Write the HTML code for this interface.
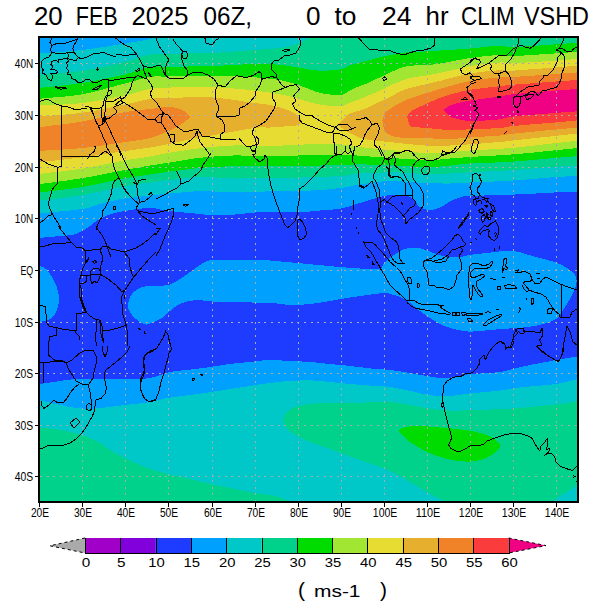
<!DOCTYPE html>
<html><head><meta charset="utf-8"><title>CLIM VSHD</title>
<style>
html,body{margin:0;padding:0;background:#fff}
svg{display:block}
text{font-family:'Liberation Sans', sans-serif;fill:#000}
.t{opacity:.999}
</style></head><body>
<svg width="600" height="610" viewBox="0 0 600 610">
<rect width="600" height="610" fill="#fff"/>
<g shape-rendering="crispEdges">
<rect x="39" y="37" width="539" height="465" fill="#00a0ff"/>
<path d="M39,238 42.6,237.7 46.2,237.3 49.8,237 53.4,236.7 56.8,236.3 60,236 63,235.7 65.8,235.6 68.4,235.4 71,235.1 73.5,234.7 76,234 78.5,233 81,231.7 83.5,230.2 85.9,228.7 88,227.3 90,226 91.6,224.9 93,223.8 94.1,222.8 95.3,221.9 96.5,220.9 98,220 99.7,219 101.6,218.1 103.6,217.1 105.6,216.2 107.8,215.3 110,214.5 112.2,213.8 114.4,213.2 116.7,212.6 119.1,212.1 121.9,211.5 125,211 128.7,210.4 132.9,209.7 137.3,209.1 141.8,208.5 146.1,208.1 150,208 153.4,208.2 156.4,208.6 159.2,209.2 162,209.9 164.8,210.5 168,211 171.4,211.4 175.1,211.7 178.8,212.1 182.6,212.4 186.3,212.7 190,213 193.6,213.4 197.2,213.8 200.8,214.1 204.4,214.5 207.9,214.8 211.5,215 215.1,215.1 218.7,215.1 222.2,215.1 225.8,215 229.4,214.9 233,214.7 236.6,214.4 240.2,214.1 243.9,213.6 247.5,213.2 251.1,212.8 254.6,212.5 258,212.2 261.4,212 264.7,211.8 268.1,211.7 271.5,211.5 275,211.5 278.7,211.6 282.4,211.7 286.2,211.9 290.1,212.2 293.9,212.3 297.7,212.3 301.5,212.2 305.2,211.9 309,211.6 312.7,211.2 316.4,210.8 320,210.5 323.6,210.2 327.1,210 330.6,209.7 334,209.4 337.4,209 340.8,208.5 344,207.8 347.1,207 350.2,206.1 353.3,205.1 356.5,204 360,203 363.9,201.8 368.1,200.5 372.5,199.2 376.8,197.9 380.7,196.8 384,196 386.5,195.5 388.5,195.3 390.1,195.2 391.5,195.3 393.1,195.4 395,195.5 397.3,195.5 399.9,195.5 402.6,195.6 405.2,195.8 407.7,196.2 410,197 412,198.3 413.7,200 415.3,201.9 416.9,203.9 418.4,205.6 420,207 421.7,208 423.3,208.7 425,209.3 426.7,209.7 428.3,209.9 430,210 431.7,209.9 433.3,209.7 435,209.3 436.7,208.8 438.3,208.2 440,207.5 441.7,206.7 443.3,205.7 445,204.6 446.7,203.5 448.3,202.4 450,201.5 451.7,200.7 453.3,199.9 455,199.2 456.7,198.6 458.3,198 460,197.5 461.3,197.1 462.1,196.8 462.9,196.6 464.2,196.4 466.4,196.2 470,196 475.3,195.8 481.9,195.6 489.4,195.3 497.4,195.1 505.5,194.9 513,194.6 520.4,194.3 528.1,193.9 535.8,193.5 543.2,193.1 550,192.7 556,192.4 560.9,192.2 564.9,192 568.3,191.9 571.4,191.8 574.6,191.6 578,191.5 578,356.4 576.4,356.7 574.7,356.9 573.1,357.2 571.5,357.4 569.8,357.7 568,358 566.1,358.3 564.1,358.6 562,359 559.9,359.3 557.9,359.7 556,360 554.3,360.3 552.7,360.6 551.2,360.9 549.7,361.3 548,361.6 546,362 543.7,362.4 541.1,362.9 538.4,363.4 535.6,363.9 532.8,364.4 530,365 527.2,365.6 524.3,366.3 521.3,367 518.4,367.7 515.6,368.4 513,369 510.7,369.6 508.6,370.1 506.7,370.7 504.7,371.1 502.5,371.6 500,372 497,372.3 493.5,372.6 489.8,372.9 486.2,373.1 482.8,373.3 480,373.5 477.8,373.6 475.9,373.7 474.4,373.7 473,373.8 471.6,373.8 470,374 468.3,374.3 466.7,374.6 465,374.9 463.3,375.3 461.7,375.7 460,376 458.3,376.3 456.7,376.6 455,376.9 453.3,377.2 451.7,377.4 450,377.6 448.4,377.8 446.8,377.9 445.2,378 443.6,378.1 441.8,378.1 440,378 438.1,377.8 436,377.5 433.9,377.2 431.7,376.8 429.4,376.4 427,376 424.4,375.6 421.7,375.1 418.9,374.6 416,374 413.1,373.5 410,373 406.8,372.5 403.6,371.9 400.2,371.4 396.8,370.9 393.4,370.4 390,370 386.7,369.7 383.3,369.4 380,369.2 376.7,368.9 373.3,368.7 370,368.4 366.7,368 363.3,367.6 360,367.2 356.7,366.8 353.3,366.4 350,366 346.7,365.6 343.3,365.3 340,365 336.7,364.7 333.3,364.3 330,364 326.7,363.7 323.3,363.3 320,362.9 316.7,362.6 313.3,362.3 310,362 306.7,361.8 303.3,361.6 300,361.4 296.7,361.3 293.3,361.2 290,361 286.7,360.8 283.3,360.6 280,360.3 276.7,360.1 273.3,360 270,360 266.7,360.2 263.3,360.4 260,360.8 256.7,361.2 253.3,361.6 250,362 246.7,362.3 243.3,362.6 240,362.9 236.7,363.3 233.3,363.6 230,364 226.7,364.4 223.3,364.9 220,365.5 216.7,366 213.3,366.5 210,367 206.7,367.5 203.3,367.9 200,368.3 196.7,368.8 193.3,369.2 190,369.6 186.7,370 183.3,370.3 180,370.6 176.7,370.9 173.3,371.4 170,372 166.7,372.8 163.5,373.9 160.3,375.1 157,376.2 153.6,377.2 150,378 146.2,378.5 142.4,378.7 138.4,378.9 134.3,378.9 129.8,378.9 125,379 119.6,379.1 113.5,379.1 107.2,379 100.9,379 95.1,379 90,379 85.8,379 82.1,379.1 78.8,379.2 75.8,379.2 72.9,379.4 70,379.6 67.1,379.9 64.3,380.3 61.7,380.7 59.1,381.2 56.6,381.6 54,382 51.4,382.4 48.9,382.7 46.4,383 44,383.3 41.5,383.7 39,384Z" fill="#1e3cff"/>
<path d="M39,265.5 40.2,266 41.4,266.5 42.6,267 43.7,267.5 44.9,268.2 46,269 47.1,270 48.1,271.2 49.1,272.5 50.1,273.9 51.1,275.4 52,277 52.9,278.6 53.9,280.4 54.8,282.2 55.6,284.1 56.4,286.1 57,288 57.6,289.9 58.1,291.9 58.5,293.9 58.8,296 59,298 59,300 58.8,302.1 58.5,304.2 58,306.3 57.4,308.4 56.7,310.3 56,312 55.2,313.5 54.4,314.8 53.5,316 52.5,317.1 51.3,318.1 50,319 48.5,319.8 46.7,320.4 44.8,320.9 42.9,321.4 40.9,321.9 39,322.4Z" fill="#00a0ff"/>
<path d="M128,304 128.3,302.4 128.7,300.7 129.4,298.9 130.1,297.1 131,295.5 132,294 133.1,292.7 134.3,291.6 135.6,290.5 137,289.6 138.5,288.7 140,288 141.5,287.4 142.9,287 144.4,286.7 146,286.4 147.8,286.2 150,286 152.6,285.8 155.6,285.8 158.9,285.8 162.1,285.7 165.3,285.4 168,285 170.3,284.3 172.4,283.5 174.3,282.5 176.1,281.4 178,280.2 180,279 182.1,277.7 184.3,276.2 186.5,274.6 188.7,273 190.9,271.5 193,270 195.1,268.5 197.1,267 199.1,265.6 201.1,264.2 203.1,263 205,262 206.6,261.3 207.7,260.8 208.8,260.5 210.3,260.3 212.6,260.2 216,260 221.1,259.8 227.7,259.7 235,259.6 242.4,259.5 249.2,259.5 254.6,259.5 258.4,259.6 261,259.7 263,259.8 264.8,260 267,260.2 270,260.5 273.7,260.8 277.8,261.2 282.2,261.6 286.9,262 292.1,262.5 297.7,263 304.2,263.6 311.5,264.3 319.3,265.1 327,265.8 334.1,266.5 340,267 344.6,267.4 348.4,267.7 351.5,268 354.2,268.2 357,268.3 360,268.5 363.4,268.7 366.9,269 370.4,269.3 373.7,269.4 376.6,269.4 379,269 380.7,268.3 381.9,267.2 382.6,266 383.3,264.6 384,263.3 385,262 386.3,260.8 387.8,259.6 389.3,258.4 390.9,257.2 392.5,256.1 394,255 395.5,254 396.9,253 398.3,252 399.8,251.1 401.3,250.3 403,249.6 404.8,249 406.8,248.5 408.8,248 410.9,247.7 413,247.5 415,247.5 417,247.7 419,248.1 421,248.6 423,249.2 425,249.9 427,250.5 429,251.2 431,252 433,252.8 435,253.6 437,254.4 439,255 441,255.6 443,256.1 445,256.5 447,256.9 449,257.2 451,257.4 453.1,257.4 455.2,257.4 457.3,257.2 459.4,257 461.3,256.7 463,256.5 464.3,256.3 465.2,256.1 466,255.8 466.9,255.6 468.1,255.3 470,255 472.5,254.6 475.6,254.2 479,253.8 482.6,253.4 486.3,253 490,252.6 493.7,252.2 497.4,251.7 501.3,251.3 505.2,250.9 509.1,250.8 513,251 517,251.6 521.2,252.6 525.3,253.8 529.3,255.1 533.1,256.2 536.4,257.2 539.2,257.9 541.6,258.5 543.7,259 545.6,259.4 547.5,259.9 549.5,260.5 551.5,261.1 553.6,261.8 555.6,262.5 557.5,263.1 559.3,263.9 561,264.6 562.6,265.4 564,266.2 565.3,267 566.6,267.8 567.8,268.6 569,269.5 570.2,270.4 571.3,271.3 572.4,272.2 573.4,273.1 574.3,274 575,275 575.5,275.9 575.9,276.9 576.2,277.8 576.4,278.8 576.5,279.9 576.5,281 576.5,282.2 576.4,283.4 576.2,284.7 575.9,286 575.5,287.4 575,289 574.3,290.7 573.3,292.7 572.3,294.7 571.2,296.7 570.1,298.7 569,300.6 568,302.4 566.9,304.1 565.8,305.8 564.7,307.4 563.7,309 562.6,310.5 561.6,312 560.7,313.5 559.8,314.9 558.9,316.3 557.8,317.5 556.4,318.7 554.8,319.7 553.1,320.6 551.1,321.5 549.1,322.2 546.9,322.9 544.6,323.6 542.1,324.3 539.5,324.9 536.7,325.5 533.8,326.1 530.9,326.6 528,327 525.1,327.3 522.2,327.6 519.2,327.8 516.2,328 513.1,328.2 510,328.4 506.7,328.7 503.1,328.9 499.5,329.2 496,329.5 492.8,329.8 490,330 487.8,330.2 485.9,330.4 484.4,330.6 483,330.7 481.6,330.9 480,331 478.3,331.1 476.7,331.3 475,331.4 473.3,331.5 471.7,331.6 470,331.6 468.3,331.5 466.7,331.4 465,331.2 463.3,331 461.7,330.7 460,330.4 458.3,330.1 456.7,329.7 455,329.4 453.3,329 451.7,328.5 450,328 448.3,327.4 446.7,326.9 445,326.2 443.3,325.5 441.7,324.8 440,324 438.3,323.1 436.7,322.2 435,321.2 433.3,320.1 431.7,319.1 430,318 428.3,316.9 426.7,315.8 425,314.6 423.3,313.4 421.7,312.2 420,311 418.3,309.7 416.7,308.3 415,306.9 413.3,305.6 411.7,304.2 410,303 408.3,301.8 406.7,300.7 405,299.7 403.3,298.7 401.7,297.8 400,297 398.3,296.3 396.5,295.7 394.8,295.2 393,294.7 391.4,294.3 390,294 389,293.7 388.4,293.4 387.9,293.1 387.2,293 386,292.9 384,293 381,293.3 377.1,293.7 372.8,294.2 368.3,294.9 363.9,295.5 360,296 356.5,296.5 353,297 349.7,297.6 346.6,298.1 343.6,298.6 341,299 338.8,299.4 337.1,299.7 335.6,300 334,300.3 332.3,300.6 330,301 327.2,301.5 324,302 320.6,302.6 317,303.1 313.4,303.6 310,304 306.7,304.3 303.3,304.6 300,304.8 296.7,305 293.3,305 290,305 287.1,304.8 284.7,304.5 282.2,304.2 279.3,303.7 275.4,303.3 270,303 262.3,302.7 252.4,302.5 241.6,302.3 230.9,302.1 221.3,301.8 214,301.6 209.2,301.3 206.1,301 204.1,300.7 202.8,300.3 201.6,300.1 200,300 198.1,300 196.4,300.1 194.8,300.2 193.2,300.4 191.6,300.7 190,301 188.3,301.3 186.7,301.7 185,302.1 183.3,302.6 181.7,303.2 180,304 178.3,304.9 176.6,306 174.9,307.2 173.2,308.5 171.6,309.8 170,311 168.6,312.2 167.3,313.4 166.1,314.6 164.9,315.8 163.5,316.9 162,318 160.2,319.1 158.1,320.2 155.9,321.2 153.7,322.2 151.7,323 150,323.6 148.7,324 147.6,324.3 146.8,324.5 145.9,324.5 145,324.3 144,324 142.8,323.5 141.4,322.8 140,322 138.6,321 137.2,320 136,319 134.8,318 133.7,316.9 132.6,315.7 131.6,314.5 130.7,313.2 130,312 129.4,310.7 128.8,309.5 128.4,308.2 128.1,306.9 127.9,305.5Z" fill="#00a0ff"/>
<path d="M39,53.6 46.2,53 53.3,52.5 60.5,52 67.7,51.4 74.8,50.8 82,50 89.4,49.1 97,48 104.6,46.9 112,45.7 118.9,44.6 125,43.6 130.4,42.7 135.4,41.8 139.8,41 143.7,40.3 147.1,39.6 150,39 152.1,38.5 153.4,38.1 154.2,37.8 154.7,37.6 155.2,37.3 156,37 578,37 578,176 574.6,176.1 571.4,176.2 568.3,176.3 564.9,176.5 560.9,176.7 556,177 550,177.5 543.2,178 535.8,178.7 528.1,179.4 520.4,180 513,180.5 505.6,180.9 497.8,181.3 490.1,181.7 482.6,182 475.8,182.2 470,182.5 465.4,182.7 461.7,183 458.8,183.2 456,183.3 453.2,183.4 450,183.5 446.4,183.5 442.9,183.5 439.2,183.4 435.4,183.3 431.4,183.2 427,183 421.9,182.7 416.2,182.4 410.2,181.9 404.4,181.6 399.2,181.2 395,181 392.1,180.9 390.3,180.8 389,180.8 387.9,180.9 386.3,181.1 384,181.3 380.7,181.7 376.8,182.1 372.5,182.7 368.1,183.3 363.9,183.9 360,184.5 356.5,185.1 353.3,185.7 350.2,186.3 347.1,186.9 344,187.5 340.8,188 337.4,188.4 334,188.8 330.6,189.2 327.1,189.5 323.6,189.7 320,190 316.4,190.2 312.7,190.4 309,190.6 305.2,190.7 301.5,190.8 297.7,190.9 293.9,191 290.1,191 286.2,190.9 282.4,190.9 278.7,190.9 275,191 271.5,191.1 268.1,191.3 264.7,191.5 261.4,191.7 258,191.9 254.6,192 251.2,192.1 247.9,192.2 244.6,192.3 241.1,192.3 237.3,192.3 233,192.3 228.1,192.2 222.8,191.9 217.2,191.6 211.3,191.3 205.6,191.2 200,191.2 194.4,191.4 188.7,191.8 183.1,192.3 177.6,192.9 172.5,193.4 168,193.8 164.3,194.1 161.2,194.4 158.6,194.6 156,194.9 153.2,195.2 150,195.5 146.1,195.9 141.8,196.4 137.3,196.9 132.9,197.5 128.7,198 125,198.5 121.9,199 119.1,199.5 116.7,200 114.4,200.5 112.2,201 110,201.5 107.9,202 105.9,202.4 104.1,202.9 102.2,203.4 100.2,203.9 98,204.5 95.9,205.2 94,205.9 91.9,206.7 89.5,207.4 86.3,208.2 82,209 76.4,209.8 69.7,210.5 62.2,211.2 54.3,212 46.5,212.8 39,213.5Z" fill="#00c8c8"/>
<path d="M39,75 46.2,74.4 53.3,73.8 60.5,73.2 67.7,72.6 74.8,71.8 82,70.8 89.4,69.6 97,68.1 104.6,66.5 112,64.9 118.9,63.3 125,61.8 130.3,60.4 134.9,59 139,57.6 142.8,56.4 146.4,55.3 150,54.5 153.2,54 155.7,53.7 158.1,53.7 160.7,53.7 164,53.8 168.4,53.7 174.2,53.6 180.9,53.5 188.4,53.5 196.2,53.4 204,53.2 211.5,53 218.9,52.6 226.5,52.1 234.2,51.6 241.5,51 248.4,50.5 254.6,50 259.9,49.6 264.7,49.3 268.9,49.1 272.8,48.8 276.4,48.4 280,48 283.5,47.5 286.7,46.9 289.7,46.3 292.5,45.6 295.2,44.9 297.7,44 300.1,43 302.2,41.9 304.2,40.7 306.1,39.4 308,38.2 310,37 578,37 578,165.3 574.6,165.5 571.4,165.7 568.3,165.8 564.9,166 560.9,166.3 556,166.6 550,167.1 543.2,167.6 535.8,168.2 528.1,168.9 520.4,169.5 513,170 505.6,170.5 497.8,170.9 490.1,171.3 482.6,171.7 475.8,172 470,172.3 465.4,172.6 461.7,172.8 458.8,173 456,173.2 453.2,173.4 450,173.5 446.4,173.6 442.9,173.8 439.2,173.9 435.4,174 431.4,174.1 427,174 421.9,173.8 416.2,173.5 410.2,173.2 404.4,172.8 399.2,172.5 395,172.3 392.1,172.2 390.3,172.2 389,172.3 387.9,172.3 386.3,172.4 384,172.5 380.7,172.6 376.8,172.6 372.5,172.7 368.1,172.8 363.9,173 360,173.2 356.8,173.6 354.1,174 351.6,174.5 348.8,175.1 345.3,175.6 340.8,176 334.8,176.3 327.4,176.7 319.5,176.9 311.4,177.2 304,177.4 297.7,177.6 292.7,177.8 288.5,178 284.9,178.1 281.6,178.3 278.4,178.3 275,178.4 271.5,178.4 268.1,178.3 264.7,178.2 261.4,178.1 258,178 254.6,178 251.2,178.1 247.9,178.2 244.6,178.3 241.1,178.4 237.3,178.5 233,178.5 228.1,178.3 222.8,178 217.2,177.6 211.3,177.2 205.6,177 200,177 194.4,177.3 188.7,177.8 183.1,178.4 177.6,179.1 172.5,179.8 168,180.3 164.3,180.7 161.2,181.1 158.6,181.4 156,181.8 153.2,182.2 150,182.6 146.4,183 142.9,183.4 139.1,183.9 134.9,184.4 130.3,185.1 125,186 118.9,187.2 112,188.7 104.6,190.4 97,192 89.4,193.6 82,195 74.8,196.1 67.7,197.1 60.5,198.1 53.3,198.9 46.2,199.8 39,200.7Z" fill="#00d28c"/>
<path d="M39,88 46.2,87.2 53.3,86.5 60.5,85.7 67.7,84.9 74.8,84 82,83 89.4,81.8 97,80.4 104.6,78.8 112,77.3 118.9,75.8 125,74.4 130.3,73 134.9,71.6 139,70.2 142.8,68.9 146.4,67.8 150,67 153.2,66.6 155.7,66.4 158.1,66.5 160.7,66.6 164,66.8 168.4,66.8 174.2,66.7 180.9,66.6 188.4,66.5 196.2,66.4 204,66.2 211.5,66 218.9,65.7 226.5,65.3 234.2,64.9 241.5,64.5 248.4,64.2 254.6,64 259.9,63.9 264.7,64 268.9,64.1 272.8,64.3 276.4,64.5 280,64.8 283.3,65.1 286.3,65.5 289,66 291.7,66.5 294.6,67 297.7,67.5 301.2,68.1 304.8,68.7 308.7,69.4 312.5,70 316.3,70.4 320,70.7 323.7,70.7 327.5,70.6 331.2,70.4 334.8,70.1 338,69.6 340.8,69.2 343,68.7 344.7,68 346.1,67.3 347.3,66.6 348.6,65.9 350,65.3 351.7,64.8 353.4,64.3 355.1,63.8 356.9,63.4 358.5,63 360,62.6 361.2,62.3 362.2,62 363.1,61.8 364,61.5 365.3,61.2 367,60.7 369.3,60.1 372,59.4 374.9,58.6 378,57.7 381.1,57 384,56.3 386.8,55.7 389.6,55.2 392.4,54.7 395.1,54.2 397.7,53.8 400,53.4 401.9,53.1 403.5,52.8 404.9,52.6 406.4,52.4 408,52.2 410,52 412.5,51.9 415.2,51.8 418.2,51.7 421.2,51.6 424.2,51.5 427,51.4 429.5,51.3 431.7,51.1 433.8,51 436.1,50.8 438.8,50.6 442,50.4 445.9,50.1 450.3,49.9 455.1,49.6 460,49.2 465.1,48.9 470,48.5 475.1,48 480.5,47.4 485.9,46.8 491.2,46.3 496,45.8 500,45.6 502.8,45.6 504.5,45.9 505.7,46.3 507.1,46.7 509.3,47 513,47 518.7,46.8 525.9,46.4 533.9,45.8 542.1,45.3 549.7,44.7 556,44.3 560.9,44 564.9,43.7 568.3,43.4 571.4,43.2 574.6,43 578,42.7 578,156.1 574.6,156.4 571.4,156.6 568.3,156.8 564.9,157.1 560.9,157.4 556,157.8 550,158.3 543.2,159 535.8,159.7 528.1,160.4 520.4,161.1 513,161.6 505.6,162 497.8,162.4 490.1,162.7 482.6,162.9 475.8,163.2 470,163.5 465.4,163.8 461.7,164.2 458.8,164.5 456,164.9 453.2,165.2 450,165.5 446.6,165.8 443.3,166.2 439.9,166.5 436.3,166.8 432,167 427,167 420.8,166.9 413.4,166.5 405.6,166.1 397.7,165.7 390.3,165.3 384,165 378.8,164.8 374.4,164.6 370.5,164.5 366.9,164.5 363.5,164.4 360,164.4 356.8,164.4 354.1,164.5 351.6,164.7 348.8,164.8 345.3,165 340.8,165.1 334.8,165.2 327.4,165.3 319.5,165.5 311.4,165.6 304,165.7 297.7,165.8 292.7,165.9 288.5,165.9 284.9,166 281.6,166 278.4,166.1 275,166.1 271.5,166.1 268.1,166.1 264.7,166.1 261.4,166 258,166 254.6,166 251.2,166 247.9,166 244.6,166 241.1,166 237.3,166.1 233,166.2 228.1,166.4 222.8,166.6 217.2,166.9 211.3,167.2 205.6,167.6 200,168 194.4,168.5 188.7,169.2 183.1,169.8 177.6,170.5 172.5,171.2 168,171.8 164.3,172.3 161.2,172.7 158.6,173.2 156,173.6 153.2,174 150,174.5 146.4,175 142.9,175.5 139.1,176 134.9,176.6 130.3,177.4 125,178.3 118.9,179.5 112,181 104.6,182.5 97,184.1 89.4,185.7 82,187 74.8,188.1 67.7,189.1 60.5,190 53.3,190.8 46.2,191.7 39,192.6Z" fill="#00dc00"/>
<path d="M39,98.8 46.2,98.1 53.3,97.5 60.5,96.9 67.7,96.3 74.8,95.4 82,94.3 89.4,92.8 97,91 104.6,89 112,87 118.9,85.1 125,83.5 130.3,82.1 134.9,80.8 139,79.6 142.8,78.6 146.4,77.7 150,77 153.2,76.6 155.7,76.4 158.1,76.4 160.7,76.5 164,76.5 168.4,76.5 174.2,76.3 180.9,76.1 188.4,75.9 196.2,75.6 204,75.5 211.5,75.5 218.9,75.6 226.5,75.9 234.2,76.2 241.5,76.5 248.4,76.9 254.6,77.3 259.9,77.7 264.7,78.1 268.9,78.6 272.8,79.1 276.4,79.6 280,80.2 283.3,80.8 286.3,81.5 289,82.2 291.7,83 294.6,83.8 297.7,84.8 301.2,86 304.8,87.4 308.7,88.9 312.5,90.4 316.3,91.8 320,92.8 323.7,93.6 327.5,94.2 331.2,94.7 334.8,95 338,95.1 340.8,95 343,94.6 344.7,93.9 346.1,93.1 347.3,92.1 348.6,91.1 350,90.3 351.7,89.5 353.4,88.8 355.1,88 356.9,87.3 358.5,86.6 360,86 361.2,85.5 362.2,85.2 363.1,84.9 364,84.5 365.3,84 367,83.3 369.4,82.2 372.3,80.9 375.6,79.4 378.8,77.9 381.7,76.6 384,75.5 385.6,74.7 386.7,74.2 387.4,73.8 388.1,73.4 388.9,73 390,72.5 391.4,71.8 393,71.1 394.8,70.4 396.5,69.6 398.3,68.9 400,68.3 401.6,67.8 403.1,67.3 404.6,66.8 406.1,66.4 407.9,66.1 410,65.8 412.5,65.6 415.2,65.4 418.2,65.4 421.2,65.3 424.2,65.2 427,65 429.5,64.8 431.7,64.6 433.8,64.4 436.1,64.1 438.8,63.7 442,63.2 445.9,62.5 450.3,61.7 455.1,60.7 460,59.8 465.1,58.9 470,58.1 475.1,57.4 480.5,56.7 485.9,56.1 491.2,55.6 496,55.2 500,54.9 502.8,54.9 504.5,55.1 505.7,55.4 507.1,55.7 509.3,56 513,56 518.7,55.8 525.9,55.4 533.9,54.9 542.1,54.3 549.7,53.8 556,53.4 560.9,53.1 564.9,52.8 568.3,52.5 571.4,52.2 574.6,52 578,51.7 578,148 574.6,148.3 571.4,148.7 568.3,149 564.9,149.3 560.9,149.7 556,150.2 550,150.8 543.2,151.5 535.8,152.3 528.1,153 520.4,153.8 513,154.4 505.6,154.9 497.8,155.4 490.1,155.9 482.6,156.3 475.8,156.6 470,157 465.4,157.3 461.7,157.6 458.8,157.8 456,158 453.2,158.3 450,158.5 446.6,158.8 443.3,159.1 439.9,159.5 436.3,159.8 432,160 427,160 420.8,159.8 413.4,159.4 405.6,159 397.7,158.4 390.3,157.9 384,157.5 378.8,157.1 374.4,156.8 370.5,156.5 366.9,156.2 363.5,155.9 360,155.7 356.8,155.5 354.1,155.3 351.6,155.1 348.8,155 345.3,154.9 340.8,154.9 334.8,154.9 327.4,155 319.5,155.1 311.4,155.2 304,155.4 297.7,155.5 292.7,155.6 288.5,155.8 284.9,155.9 281.6,156 278.4,156.1 275,156.2 271.5,156.2 268.1,156.2 264.7,156.2 261.4,156.1 258,156.1 254.6,156 251.2,155.9 247.9,155.8 244.6,155.6 241.1,155.5 237.3,155.4 233,155.5 228.1,155.7 222.8,156 217.2,156.3 211.3,156.7 205.6,157.2 200,157.8 194.4,158.5 188.7,159.4 183.1,160.3 177.6,161.2 172.5,162.1 168,162.8 164.3,163.4 161.2,163.8 158.6,164.2 156,164.6 153.2,165 150,165.5 146.4,166.1 142.9,166.7 139.1,167.4 134.9,168.2 130.3,169 125,170 118.9,171.2 112,172.5 104.6,174 97,175.5 89.4,176.9 82,178.2 74.8,179.3 67.7,180.4 60.5,181.3 53.3,182.3 46.2,183.2 39,184.2Z" fill="#a0e632"/>
<path d="M39,105.5 46.2,105.2 53.3,104.9 60.5,104.6 67.7,104.3 74.8,103.8 82,103.1 89.4,102.1 97,100.8 104.6,99.4 112,98 118.9,96.6 125,95.3 130.3,94.1 134.9,92.9 139,91.8 142.8,90.7 146.4,89.7 150,89 153.2,88.5 155.7,88.1 158.1,87.9 160.7,87.8 164,87.7 168.4,87.6 174.2,87.4 180.9,87.2 188.4,87 196.2,86.9 204,86.8 211.5,87 218.9,87.4 226.5,87.9 234.2,88.5 241.5,89.2 248.4,89.9 254.6,90.6 259.9,91.2 264.7,91.8 268.9,92.4 272.8,93 276.4,93.7 280,94.3 283.3,94.9 286.3,95.6 289,96.2 291.7,96.9 294.6,97.7 297.7,98.5 301.2,99.5 304.8,100.6 308.7,101.7 312.5,102.8 316.3,103.8 320,104.6 323.7,105.2 327.5,105.6 331.2,105.9 334.8,106 338,106.1 340.8,106 343,105.7 344.7,105.3 346.1,104.7 347.3,104.1 348.6,103.4 350,102.8 351.7,102.2 353.4,101.5 355.1,100.8 356.9,100.1 358.5,99.5 360,98.9 361.2,98.4 362.2,98.1 363.1,97.7 364,97.3 365.3,96.8 367,96.1 369.4,95.1 372.3,93.9 375.6,92.5 378.8,91.1 381.7,89.8 384,88.8 385.6,88 386.7,87.4 387.4,87 388.1,86.5 388.9,86 390,85.5 391.4,84.9 393,84.2 394.8,83.5 396.5,82.7 398.3,82.1 400,81.4 401.6,80.8 403.1,80.2 404.6,79.6 406.1,79.1 407.9,78.5 410,78 412.5,77.5 415.2,77.1 418.2,76.6 421.2,76.2 424.2,75.7 427,75.3 429.5,74.9 431.7,74.5 433.8,74.1 436.1,73.7 438.8,73.2 442,72.5 445.9,71.6 450.3,70.6 455.1,69.4 460,68.2 465.1,67.1 470,66.2 475.1,65.4 480.5,64.6 485.9,63.9 491.2,63.3 496,62.8 500,62.5 502.8,62.4 504.5,62.5 505.7,62.8 507.1,63 509.3,63.2 513,63.2 518.7,62.9 525.9,62.5 533.9,62 542.1,61.5 549.7,61 556,60.6 560.9,60.3 564.9,60 568.3,59.7 571.4,59.5 574.6,59.3 578,59 578,140.8 574.6,141.1 571.4,141.4 568.3,141.7 564.9,142.1 560.9,142.5 556,143 550,143.7 543.2,144.5 535.8,145.4 528.1,146.3 520.4,147.1 513,147.8 505.6,148.4 497.8,148.9 490.1,149.4 482.6,149.8 475.8,150.1 470,150.5 465.4,150.8 461.7,151.1 458.8,151.4 456,151.6 453.2,151.8 450,152 446.6,152.2 443.3,152.5 439.9,152.8 436.3,153 432,153.1 427,153 420.8,152.7 413.4,152.1 405.6,151.5 397.7,150.8 390.3,150.1 384,149.5 378.8,149 374.4,148.6 370.5,148.2 366.9,147.8 363.5,147.4 360,147 356.8,146.6 354.1,146.1 351.6,145.6 348.8,145.1 345.3,144.8 340.8,144.5 334.8,144.4 327.4,144.3 319.5,144.3 311.4,144.4 304,144.5 297.7,144.6 292.7,144.8 288.5,145 284.9,145.3 281.6,145.6 278.4,145.8 275,146 271.5,146.1 268.1,146.1 264.7,146.1 261.4,146.1 258,146 254.6,146 251.2,145.9 247.9,145.8 244.6,145.6 241.1,145.4 237.3,145.4 233,145.5 228.1,145.7 222.8,146.1 217.2,146.5 211.3,147 205.6,147.6 200,148.2 194.4,148.9 188.7,149.7 183.1,150.6 177.6,151.4 172.5,152.3 168,153 164.3,153.7 161.2,154.2 158.6,154.8 156,155.4 153.2,155.9 150,156.5 146.4,157.1 142.9,157.6 139.1,158.2 134.9,158.8 130.3,159.5 125,160.4 118.9,161.6 112,162.9 104.6,164.4 97,165.9 89.4,167.3 82,168.6 74.8,169.7 67.7,170.6 60.5,171.5 53.3,172.3 46.2,173.1 39,174Z" fill="#e6dc32"/>
<path d="M39,116.5 46.2,115.9 53.3,115.4 60.5,114.9 67.7,114.4 74.8,113.7 82,112.8 89.4,111.7 97,110.3 104.6,108.8 112,107.2 118.9,105.8 125,104.5 130.3,103.4 134.9,102.3 139,101.3 142.8,100.4 146.4,99.6 150,99 153.2,98.6 155.7,98.3 158.1,98.2 160.7,98.1 164,98.1 168.4,98 174.2,97.8 180.9,97.6 188.4,97.3 196.2,97.2 204,97.2 211.5,97.5 219,98.1 226.9,99 234.8,100.1 242.3,101.2 249,102.2 254.6,103 258.7,103.5 261.6,103.8 263.7,104 265.6,104.2 267.5,104.5 270,105 273.2,105.8 276.8,106.7 280.5,107.8 284.1,108.9 287.3,110 290,111 292,111.9 293.6,112.7 294.8,113.6 295.8,114.4 296.7,115.2 297.7,116 298.7,116.8 299.6,117.7 300.5,118.5 301.3,119.3 302.1,120.2 303,121 302.1,121.7 301.3,122.4 300.5,123.2 299.6,123.9 298.7,124.5 297.7,125 296.7,125.3 295.8,125.5 294.8,125.7 293.6,125.7 292,125.8 290,126 287.3,126.2 284.1,126.5 280.5,126.8 276.8,127.1 273.2,127.3 270,127.5 267.5,127.6 265.6,127.5 263.7,127.4 261.6,127.4 258.7,127.5 254.6,128 248.7,128.9 241.1,130.2 232.8,131.7 224.6,133.2 217.2,134.5 211.5,135.5 208,136 206.1,136.2 205,136.3 204.2,136.3 202.7,136.5 200,137 195.7,137.9 190.5,139.1 184.6,140.4 178.7,141.7 173.1,143 168.4,144 164.6,144.8 161.5,145.4 158.8,146 156.1,146.5 153.3,147 150,147.5 146.4,148.1 142.8,148.6 139,149.1 134.9,149.6 130.3,150.3 125,151 118.9,151.9 112,152.9 104.6,154.1 97,155.2 89.4,156.3 82,157.3 74.8,158.2 67.7,159.1 60.5,159.9 53.3,160.7 46.2,161.5 39,162.3Z" fill="#e6af2d"/>
<path d="M338,125.5 338.8,124.4 339.6,123.3 340.4,122.2 341.2,121.1 342.1,120 343,119 344,118 345.1,117 346.2,116 347.4,115.1 348.6,114.3 350,113.5 351.5,112.8 353.2,112.3 355,111.8 356.8,111.4 358.5,110.9 360,110.5 361.2,110.1 362.2,109.8 363.1,109.6 364,109.2 365.3,108.7 367,108 369.4,106.9 372.3,105.5 375.6,103.9 378.8,102.3 381.7,100.9 384,99.8 385.6,99 386.7,98.6 387.4,98.2 388.1,97.9 388.9,97.5 390,97 391.4,96.2 393,95.4 394.8,94.4 396.5,93.4 398.3,92.5 400,91.7 401.6,91 403.1,90.4 404.6,89.8 406.1,89.2 407.9,88.6 410,88 412.5,87.3 415.2,86.6 418.2,85.9 421.2,85.2 424.2,84.6 427,83.9 429.5,83.3 431.7,82.8 433.8,82.3 436.1,81.8 438.8,81.2 442,80.4 445.9,79.4 450.3,78.3 455.1,77 460,75.7 465.1,74.6 470,73.6 475.1,72.8 480.5,72.1 485.9,71.4 491.2,70.9 496,70.5 500,70.2 502.8,70.1 504.5,70.2 505.7,70.4 507.1,70.6 509.3,70.7 513,70.6 518.7,70.3 525.9,69.7 533.9,69.1 542.1,68.5 549.7,67.9 556,67.4 560.9,67 564.9,66.7 568.3,66.4 571.4,66.1 574.6,65.9 578,65.6 578,133.6 574.6,133.9 571.4,134.2 568.3,134.5 564.9,134.9 560.9,135.3 556,135.8 549.7,136.5 542.1,137.3 533.9,138.2 525.9,139.1 518.7,139.9 513,140.5 509.3,140.9 507.1,141.2 505.7,141.4 504.5,141.6 502.8,141.7 500,142 495.9,142.3 490.9,142.7 485.4,143.2 479.9,143.6 474.6,144 470,144.3 466.1,144.6 462.7,144.8 459.6,145 456.5,145.2 453.4,145.4 450,145.5 446.6,145.6 443.3,145.8 439.9,145.9 436.3,146 432,145.9 427,145.7 420.7,145.2 413.2,144.5 405.1,143.7 397.2,142.9 389.9,142.1 384,141.5 379.5,141 375.9,140.7 373.1,140.3 370.7,140.1 368.7,139.8 366.7,139.5 365,139.2 363.8,139 362.9,138.8 362.1,138.6 361.2,138.3 360,137.8 358.5,137.2 357,136.5 355.3,135.8 353.6,134.9 351.8,134 350,133 348.1,131.9 346.1,130.7 344.1,129.4 342.1,128.1 340,126.8Z" fill="#e6af2d"/>
<path d="M39,127.2 46.2,126.3 53.3,125.4 60.5,124.6 67.7,123.7 74.8,122.7 82,121.5 89.4,120.1 97,118.4 104.6,116.7 112,115 118.9,113.4 125,112.2 130.3,111.3 134.9,110.6 139,110.1 142.8,109.8 146.4,109.4 150,109 153.5,108.5 156.8,108.1 159.9,107.6 162.9,107.3 165.7,107 168.4,107 171,107.2 173.5,107.5 175.8,107.9 178,108.5 180.1,109.2 182,110 183.8,110.9 185.3,112 186.8,113.2 188.2,114.5 189.6,115.8 191,117 189.2,118.4 187.4,119.7 185.5,121.1 183.7,122.5 181.9,123.8 180,125 178.2,126.1 176.4,127.1 174.7,128.1 172.8,129 170.7,130 168.4,131 165.8,132.1 163,133.4 160,134.6 156.9,135.9 153.5,137 150,138 146.4,138.8 142.8,139.5 139,140.1 134.9,140.6 130.3,141.3 125,142 118.9,142.9 112,144 104.6,145.1 97,146.1 89.4,147.2 82,148 74.8,148.7 67.7,149.2 60.5,149.7 53.3,150.1 46.2,150.5 39,151Z" fill="#f08228"/>
<path d="M382.5,120.5 382.9,119.2 383.2,117.9 383.6,116.5 384,115.2 384.4,114 385,113 385.6,112.2 386.3,111.5 387,110.9 387.9,110.4 388.8,109.8 390,109 391.4,108.1 393,107 394.7,105.9 396.5,104.8 398.3,103.7 400,102.8 401.6,102 403.1,101.3 404.6,100.6 406.1,100 407.9,99.3 410,98.5 412.5,97.6 415.2,96.7 418.2,95.8 421.2,94.8 424.2,93.9 427,93 429.5,92.2 431.7,91.5 433.8,90.8 436.1,90 438.8,89.2 442,88.3 445.9,87.2 450.3,85.9 455.1,84.6 460,83.3 465.1,82 470,81 475.1,80.1 480.5,79.4 485.9,78.7 491.2,78.1 496,77.7 500,77.3 502.8,77.1 504.5,77 505.7,77.1 507.1,77.2 509.3,77.2 513,77 518.7,76.6 525.9,76.2 533.9,75.6 542.1,75 549.7,74.5 556,74 560.9,73.6 564.9,73.3 568.3,73.1 571.4,72.8 574.6,72.6 578,72.3 578,127.7 574.6,128 571.4,128.2 568.3,128.4 564.9,128.7 560.9,129.1 556,129.5 549.7,130.1 542.1,130.8 533.9,131.6 525.9,132.4 518.7,133.1 513,133.7 509.3,134.1 507.1,134.5 505.7,134.7 504.5,135 502.8,135.2 500,135.5 495.9,135.8 490.9,136.2 485.4,136.5 479.9,136.9 474.6,137.2 470,137.5 466.1,137.8 462.7,138.1 459.6,138.4 456.5,138.7 453.4,138.9 450,139 446.4,139 442.7,138.9 438.9,138.8 435.1,138.6 431.1,138.4 427,138.3 422.5,138.2 417.7,138.1 412.7,138 407.9,137.9 403.6,137.7 400,137.5 397.3,137.2 395.2,136.8 393.7,136.5 392.4,136 391.2,135.5 390,135 388.8,134.5 387.7,134 386.8,133.5 385.9,132.9 385.2,132.1 384.5,131 384,129.6 383.6,128 383.3,126.2 383,124.2 382.8,122.3Z" fill="#f08228"/>
<path d="M407,116.5 407.5,115.8 407.9,115.1 408.4,114.4 408.9,113.7 409.4,113 410,112.4 410.6,111.8 411.3,111.3 411.9,110.8 412.7,110.3 413.7,109.7 415,109 416.6,108.2 418.4,107.4 420.4,106.4 422.5,105.5 424.7,104.5 427,103.5 429.3,102.5 431.9,101.3 434.4,100.2 437,99.1 439.6,98 442,97.1 444.3,96.3 446.4,95.6 448.5,95 450.6,94.4 452.7,93.9 455,93.3 457.2,92.7 459.3,92.1 461.4,91.5 463.8,91 466.6,90.4 470,89.8 474.3,89.2 479.5,88.5 485.1,87.8 490.7,87.2 495.8,86.6 500,86.1 502.8,85.8 504.5,85.6 505.7,85.4 507.1,85.3 509.3,85.1 513,84.8 518.7,84.3 525.9,83.8 533.9,83.2 542.1,82.5 549.7,82 556,81.5 560.9,81.1 564.9,80.9 568.3,80.6 571.4,80.4 574.6,80.2 578,80 578,120.3 574.6,120.6 571.4,120.9 568.3,121.3 564.9,121.6 560.9,122 556,122.4 549.7,122.9 542.1,123.5 533.9,124.2 525.9,124.9 518.7,125.5 513,126 509.3,126.4 507.1,126.8 505.7,127.1 504.5,127.4 502.8,127.7 500,128 495.9,128.3 490.9,128.5 485.4,128.7 479.9,128.9 474.6,129.1 470,129.3 466.1,129.5 462.7,129.7 459.6,129.9 456.5,130 453.4,130 450,130 446.2,129.8 442.1,129.5 438,129.1 434,128.7 430.2,128.3 427,128 424.3,127.8 421.9,127.6 419.9,127.5 418.1,127.3 416.5,127.2 415,127 413.7,126.9 412.7,126.8 411.9,126.8 411.3,126.7 410.6,126.3 410,125.6 409.4,124.5 408.9,123.1 408.4,121.5 407.9,119.8 407.5,118.1Z" fill="#fa3c3c"/>
<path d="M443.6,110 444.6,109.2 445.6,108.4 446.6,107.7 447.6,106.9 448.7,106.2 450,105.5 451.5,104.9 453.1,104.3 454.8,103.8 456.5,103.4 458.3,102.9 460,102.5 461.6,102.1 463.1,101.8 464.7,101.6 466.3,101.3 468,101 470,100.7 472.2,100.4 474.6,100 477.2,99.6 479.8,99.2 482.4,98.9 485,98.5 487.5,98.2 490.1,97.8 492.6,97.5 495.1,97.2 497.6,96.8 500,96.5 501.9,96.2 503.4,95.8 504.8,95.5 506.5,95.2 509.1,94.8 513,94.3 518.7,93.7 525.9,93.1 533.9,92.4 542.1,91.7 549.7,91 556,90.5 560.9,90.1 564.9,89.8 568.3,89.6 571.4,89.4 574.6,89.2 578,89 578,111.2 574.6,111.5 571.4,111.7 568.3,111.9 564.9,112.2 560.9,112.5 556,112.9 549.7,113.4 542.1,114 533.9,114.6 525.9,115.3 518.7,115.9 513,116.5 509.1,117 506.5,117.6 504.8,118 503.4,118.5 501.9,118.9 500,119.3 497.6,119.6 495.1,119.8 492.6,120 490.1,120.2 487.5,120.4 485,120.5 482.4,120.6 479.8,120.8 477.2,120.9 474.6,121 472.2,121 470,121 468,120.9 466.3,120.7 464.7,120.5 463.1,120.2 461.6,119.9 460,119.5 458.3,119.1 456.5,118.7 454.8,118.3 453.1,117.8 451.5,117.2 450,116.5 448.7,115.6 447.6,114.6 446.6,113.5 445.6,112.3 444.6,111.1Z" fill="#f00082"/>
<path d="M39,400 42.5,400.8 46,401.7 49.4,402.6 52.9,403.4 56.4,404.2 60,405 63.7,405.7 67.4,406.5 71.2,407.1 74.9,407.8 78.6,408.3 82,408.6 85.2,408.8 88,408.8 90.8,408.7 93.6,408.5 96.6,408.3 100,408 103.8,407.6 107.8,407.2 112.1,406.6 116.4,406.1 120.8,405.5 125,405 129.2,404.5 133.6,404 137.9,403.6 142.2,403.1 146.2,402.6 150,402 153.4,401.4 156.4,400.7 159.2,400 162,399.3 164.8,398.6 168,398 171.4,397.4 175.1,396.9 178.8,396.4 182.6,396 186.3,395.5 190,395 193.6,394.5 197.1,394 200.7,393.5 204.2,393 207.6,392.5 211,392 214.3,391.5 217.4,391 220.6,390.5 223.7,390 226.8,389.5 230,389 233.3,388.5 236.6,388 239.9,387.5 243.3,387 246.7,386.5 250,386 253.3,385.5 256.7,385 260,384.4 263.3,383.9 266.7,383.4 270,383 273.3,382.6 276.7,382.2 280,381.8 283.3,381.5 286.7,381.2 290,381 293.3,380.8 296.7,380.6 300,380.5 303.3,380.4 306.7,380.4 310,380.4 313.3,380.5 316.7,380.8 320,381 323.3,381.4 326.7,381.7 330,382 333.3,382.3 336.7,382.7 340,383 343.3,383.3 346.7,383.7 350,384 353.3,384.3 356.7,384.6 360,384.8 363.3,385.1 366.7,385.3 370,385.6 373.3,385.8 376.7,386 380,386.2 383.3,386.3 386.7,386.6 390,387 393.4,387.5 396.8,388.2 400.2,388.9 403.6,389.6 406.8,390.3 410,391 413.1,391.6 416,392.3 418.9,393 421.7,393.6 424.4,394.1 427,394.6 429.4,395 431.5,395.3 433.6,395.6 435.6,395.8 437.7,395.9 440,396 442.5,396 445.2,396 447.9,395.9 450.7,395.8 453.4,395.6 456,395.4 458.4,395.1 460.8,394.8 463.1,394.4 465.3,394.1 467.6,393.7 470,393.4 472.4,393.1 474.9,392.9 477.4,392.7 480,392.5 482.5,392.2 485,392 487.4,391.8 489.8,391.6 492.2,391.4 494.6,391.1 497.2,390.8 500,390.5 503.2,390.1 506.7,389.5 510.3,389 513.9,388.4 517.2,387.9 520,387.5 522.1,387.2 523.5,387.1 524.6,387 525.9,386.9 527.5,386.7 530,386.5 533.5,386.2 537.6,385.9 542.2,385.5 547,385.1 551.7,384.6 556,384 559.9,383.3 563.6,382.5 567.2,381.7 570.8,380.8 574.4,379.9 578,379 578,502 39,502Z" fill="#00c8c8"/>
<path d="M39,427.4 42.5,427.8 46,428.2 49.4,428.5 52.9,429 56.4,429.4 60,430 63.7,430.7 67.4,431.4 71.2,432.2 74.9,433 78.6,434 82,435 85.3,436.2 88.6,437.5 91.8,438.9 94.7,440.3 97.5,441.7 100,443 102.1,444.2 103.7,445.4 105.2,446.5 106.6,447.6 108.1,448.8 110,450 112.2,451.3 114.6,452.6 117.2,454 119.8,455.4 122.4,456.7 125,458 127.6,459.3 130.2,460.5 132.8,461.8 135.4,462.9 137.8,464 140,465 141.9,465.8 143.4,466.5 144.8,467.1 146.3,467.7 147.9,468.3 150,469 152.5,469.8 155.3,470.6 158.2,471.4 161.4,472.3 164.7,473.2 168,474 171.4,474.8 175.1,475.7 178.8,476.5 182.6,477.3 186.3,478.2 190,479 193.6,479.8 197.1,480.7 200.7,481.6 204.2,482.4 207.6,483.2 211,484 214.2,484.7 217.3,485.4 220.3,486 223.3,486.6 226.5,487.3 230,488 233.9,488.8 238.1,489.7 242.5,490.6 246.9,491.5 251,492.3 254.6,493 257.8,493.5 260.6,493.9 263.2,494.2 265.6,494.4 267.9,494.7 270,495 272,495.4 273.7,495.7 275.3,496 276.8,496.4 278.3,496.9 280,497.4 281.8,498 283.6,498.8 285.4,499.6 287.3,500.4 289.2,501.2 291,502 39,502Z" fill="#00d28c"/>
<path d="M578,401 575,401.5 572.1,402 569.1,402.6 566.1,403.1 563.1,403.6 560,404 556.8,404.4 553.5,404.7 550.1,405.1 546.7,405.4 543.4,405.7 540,406 536.7,406.3 533.3,406.7 530,407.1 526.7,407.4 523.3,407.7 520,408 516.7,408.2 513.3,408.4 510,408.6 506.7,408.7 503.3,408.8 500,409 496.6,409.2 493,409.4 489.4,409.6 485.9,409.7 482.8,409.9 480,410 477.8,410.1 476.1,410.1 474.6,410 473.3,410 471.8,410 470,410 467.9,410.1 465.7,410.2 463.4,410.3 461,410.5 458.5,410.6 456,410.6 453.4,410.6 450.7,410.5 447.9,410.5 445.2,410.3 442.5,410.2 440,410 437.7,409.8 435.6,409.5 433.6,409.1 431.5,408.8 429.4,408.4 427,408 424.4,407.6 421.7,407.1 418.9,406.6 416,406 413.1,405.5 410,405 407,404.5 403.9,403.9 400.8,403.3 397.5,402.7 393.9,402.3 390,402 385.6,401.9 380.7,401.9 375.6,402.1 370.4,402.3 365.1,402.5 360,402.6 354.9,402.7 349.6,402.7 344.4,402.8 339.3,402.8 334.4,402.9 330,403 326,403.1 322.4,403.2 319.1,403.3 316,403.5 313,403.7 310,404 307,404.4 304.1,404.9 301.2,405.4 298.6,406 296.2,406.7 294,407.4 292.1,408.2 290.6,409.1 289.2,410 288,410.9 287,412 286,413 285.2,414.1 284.6,415.2 284.2,416.4 283.8,417.6 283.4,418.8 283,420 283.4,421.3 283.7,422.7 284,424 284.4,425.3 285,426.7 286,428 287.4,429.4 289.2,430.7 291.2,432.1 293.4,433.5 295.5,434.8 297.6,436 299.5,437.1 301.4,438.1 303.3,439.1 305.3,440 307.5,441 310,442 313,443.1 316.4,444.4 320.1,445.6 323.7,446.9 327.1,448 330,449 332.2,449.8 334,450.4 335.5,451 336.9,451.6 338.6,452.2 340.8,453 343.5,454 346.5,455.1 349.8,456.3 353.2,457.6 356.7,458.8 360,460 363.4,461.2 367,462.4 370.6,463.7 374,464.9 377.2,466 380,467 382.2,467.8 384.1,468.5 385.6,469.1 387,469.7 388.4,470.3 390,471 391.7,471.8 393.3,472.6 395,473.4 396.7,474.2 398.3,475.1 400,476 401.7,476.9 403.3,477.9 405,478.9 406.7,480 408.3,481 410,482 411.7,483 413.4,484.1 415.2,485.1 416.9,486.1 418.5,487.1 420,488 421.3,488.8 422.5,489.4 423.6,490.1 424.6,490.7 425.8,491.3 427,492 428.4,492.8 429.9,493.6 431.4,494.4 432.9,495.3 434.5,496.2 436,497 437.5,497.8 439,498.7 440.5,499.5 442,500.3 443.5,501.2 445,502 551,502 552.5,501 554,500 555.4,499 556.9,498 558.4,497 560,496 561.6,495 563.3,494 565.1,493 566.8,492 568.4,491 570,490 571.4,489 572.8,488 574.1,487 575.4,486 576.7,485 578,484Z" fill="#00d28c"/>
<path d="M399,430.6 399.3,430 399.9,429.4 400.7,428.8 401.7,428.3 402.8,427.8 404,427.4 405.3,427 406.9,426.7 408.5,426.5 410.3,426.3 412.1,426.1 414,426 416,426 418.1,426 420.3,426.1 422.6,426.2 424.8,426.3 427,426.4 429.1,426.5 431.2,426.7 433.3,426.8 435.4,427 437.7,427.2 440,427.4 442.5,427.6 445.2,427.9 447.9,428.2 450.7,428.4 453.4,428.7 456,429 458.5,429.3 461,429.5 463.4,429.8 465.7,430 467.9,430.3 470,430.6 471.9,430.9 473.6,431.3 475.2,431.7 476.8,432.1 478.4,432.5 480,433 481.7,433.5 483.4,434 485.1,434.6 486.8,435.2 488.4,435.9 490,436.6 491.5,437.4 493,438.3 494.5,439.3 495.9,440.2 497,441.2 498,442 498.7,442.7 499.3,443.4 499.6,444.1 499.9,444.7 500,445.3 500,446 500,446.6 499.9,447.3 499.6,447.9 499.3,448.5 498.7,449.2 498,450 497,450.9 495.9,451.9 494.5,453 493,454.1 491.5,455.1 490,456 488.4,456.8 486.8,457.6 485.1,458.3 483.4,458.9 481.7,459.5 480,460 478.4,460.4 476.8,460.8 475.2,461.1 473.6,461.3 471.9,461.5 470,461.6 467.9,461.6 465.7,461.6 463.4,461.4 461,461.2 458.5,460.9 456,460.6 453.4,460.2 450.7,459.6 447.9,459.1 445.2,458.4 442.5,457.7 440,457 437.6,456.2 435.2,455.4 432.9,454.5 430.8,453.6 428.8,452.8 427,452 425.5,451.3 424.3,450.7 423.3,450.1 422.3,449.4 421.3,448.8 420,448 418.5,447.1 416.8,446.2 415.1,445.2 413.3,444.1 411.6,443.1 410,442 408.5,440.9 407,439.6 405.6,438.4 404.2,437.2 403,436 402,435 401.1,434.1 400.3,433.3 399.7,432.6 399.2,431.9 399,431.2Z" fill="#00dc00"/>
</g>
<g stroke="#aaaaaa" stroke-width="1" stroke-dasharray="2 4.6" fill="none" shape-rendering="crispEdges"><path d="M82.5,38 V501"/><path d="M125.5,38 V501"/><path d="M168.5,38 V501"/><path d="M212.5,38 V501"/><path d="M255.5,38 V501"/><path d="M298.5,38 V501"/><path d="M341.5,38 V501"/><path d="M384.5,38 V501"/><path d="M427.5,38 V501"/><path d="M470.5,38 V501"/><path d="M513.5,38 V501"/><path d="M556.5,38 V501"/><path d="M40,476.5 H577"/><path d="M40,425.5 H577"/><path d="M40,373.5 H577"/><path d="M40,322.5 H577"/><path d="M40,270.5 H577"/><path d="M40,218.5 H577"/><path d="M40,167.5 H577"/><path d="M40,115.5 H577"/><path d="M40,63.5 H577"/></g>
<path d="M51.7,38.7 50,42.4 52,45.3 50.4,50 51.7,52.7 49.1,57.1 44.7,58.4 41.6,61.1 M52,45.3 57.3,43.3 64.7,43.6 71.3,41.1 76,39.7 78,38 M78,38 76,42 74,45.1 72.8,48.7 74.1,52 76,54.9 78.4,57.3 80.7,58.9 84,58 88.7,56.3 93.3,54 98.7,53.1 104,52.7 108.7,54.7 113.3,56 116,56.3 M51.7,52.7 57.3,53.3 62.7,54 67.3,52.7 70.9,52.7 74.1,52 M67.3,52.7 68.7,56 66.9,58 69.3,59.3 76,60.7 78.4,57.3 M41.6,61.1 41.1,66 43.3,70 42,72.7 46,74.7 47.7,78.9 51.7,80.7 52.7,76.3 50.9,73.6 56,73.6 58,71.7 54.7,70 50.9,69.3 53.1,66.9 50.9,64.3 52,61.3 56,60.3 58.4,62.1 58.9,59.7 63.3,58.9 66.9,58 M66.9,58 68.7,60.7 66.4,63.3 68,66 66,68 68.7,70.9 67.3,74 70.4,74.7 72,78.7 75.7,80 77.3,82 81.3,82.7 85.3,80 89.3,79.7 93.3,82.7 98,82 102,80 105.3,79.3 108.7,80 M55.3,86.4 59.3,88 64.7,87.3 66.7,88.7 60,89.1 56,87.7 55.3,86.4 M92.7,89.3 96,87.3 102,85.1 100,87.3 96,90 92.7,89.3 M96.7,69.1 97.6,68 98.4,69.3 97.3,70.4 96.7,69.1 M108.7,80 108,84 108.8,86.7 M108.7,80 112,80.7 116,79.3 M39.3,101.6 44,100 48.7,99.7 53.3,102.7 58,104.7 62,106 69.3,107.3 76,110 82,108.7 86.7,108 M62,106 61.3,116 M116,54.4 126,55.4 133,54.4 137,55 M116,38.4 120.4,42 125,45 131,47.6 134,51 137,55 M137,55 140,60 143,66 144,71 146,76 147,79 M143.6,66 150,68 157,65.6 161,66 163,70 165,75 M156,38 159,46 164,53 169,60 167,63 165,69 165,75 169,78 176,79 184,78 188,75 187,70 184,66 182,60 181,55 183,52 180,48 176,44 173,39 M183,52 186,51 188,55 186,59 183,58 182,55 M136,70.4 140,68 139.6,70.4 136.4,71.6 136,70.4 M148,72 149.6,75 151.2,77 150,74 148,72 M116,79.6 126,78 135,77 138,75.6 144,78 147,79 M147,79 151,84 153,89 150,93 152,98 157,103 161,110 164,113.6 M135.6,77 132.4,81.6 130.4,89 125,97 120.4,100.4 116,104.4 M120.4,100.4 128,105 136,110.4 143,115.6 148,119.6 155,119 159,115 164,113.6 M155,119 157,122 161,122 M164,113.6 161.6,117 161,122 164,127 168.4,134 170,138 170.4,141 173,143 175,140 174,134.4 170.4,134 M173,143 176,144.4 184,145.2 191,140 195,136 197,131 198,136 200,142 204,147 208,152 210,156 M164,113.6 168,115 172,120 175,125 180,129 185,132 193,130 198,129 202,136 210,137 220,139 228,140 236,139 M188,75 192,73 200,72 208,75 214,79 218,85 M218,85 215,91 216,100 219,108 216,116 222,120 225,126 224,132 220,135 220,139 M218,85 225,87 230,81 236,76 M216,116 226,117 236,116 M205,38.4 206,43 212,45 216,40 219,38.4 M116,145 119,150 121,156 M299.6,38.4 301,44 298.4,49 296,53 290,55 284,56 279,60 274,61 271.6,64 272,70 276,74 277,78 M282.4,50.4 287,49 289.6,50 285,51.6 282.4,50.4 M236,75.6 246,77.6 253,75.6 259,71.6 261,73 262,79 266,78 272,76.6 277,78 M262,79.6 260,85 256,91 255,96 250,102 245,106 240,108 239,115 236,116 M277,78 281,84 285,87.6 279,90 273,92 272,98 276,103 274,109 270,115 266,121 260,125 254,128 252,133 255,138 257,145 255,151 251,150 M285,87.6 289,86 296,84.6 299.6,89 295,94 293.6,96 296,101 292.4,104 295,109 301,113 305,115 311,115 315,118 322,122 328,125 334,127 M300,115 299,119 302,123 310,126 318,129 326,132 332,133 334,130 334,127 M335,127 340,124 348,125 352,129 346,131 339,130 335,127 M352,129 356,127 M334,133 333,140 335,145 334,151 336,156 M334,133 340,134 345,136 350,139 352,144 349,146 351,151 354,156 M359,38.4 364,44 369,49 378,50 388,50 396,53 404,55 409,53 416,51 424,50 431,48 435,45 434,41 435,38.4 M382.4,78.4 384.4,77 387,79 384,80.4 382.4,78.4 M476,57.6 471.6,61 468,64 464,66.4 460.4,69 462,73 465.6,75 469.6,73 473,76 470.4,78 474,80.4 476,80 M476,82.4 471,84 467,87.6 468,92.4 471.6,96 474.4,100.4 476,102 M462,99.6 465,97.2 467.6,99.6 462,99.6 M474,125 471,130 468,135 465.6,140 462,144 458,149 455,152 450,153 445.6,152.4 442.4,151 441.6,154.4 444,156 M356,120 361,119 366,117.6 370,121 372,125 368.4,129 365,134.4 363,140 360,145 356,147 M372,125 377,123 379.6,128 378,134 375,140 374,145 378,148 381,154 382,156 M391,156 394,153 402,152 407,150 412,152 414,156 M470,61 474,58.4 479,59.6 480.4,62 478,66 476.4,69 482,66.4 489,63 M489,63 493,60 498,56 502,55 506,56 510,52 513,49 517,47 519,41 518,38 M489,63 491.6,66 490.4,69 493.6,73 498,74 500,77 498,81 499.6,86 498.4,91 503,91 509,89.6 511.6,87 511.6,81 509,75 506,71 505,68 506,64 511,59 514,54 517,47 M498,74 503,72 506,71 M517,47 521,45 525,47 530,48.4 534,45.6 538,41.6 541,38 M470,77 475,76 480,77 481.2,78.8 476,80 472,81.2 470,83 M470,93 472.4,96 474.4,101 476.4,105 473,106 478,107.6 475,110.4 479,113.6 477.6,117 475.6,121 473,125 472,130 470,134 M474,140 477,139 478.4,142 477,148 474.4,154 472,152 471.6,147 474,140 M513,98 516,96 520,97 521,101 519,106 516,108 514,105 513,98 M517,110 518.4,112 517.6,113 M516,96 519,93 523,90 528,87 534,86 539,85 540,81 543,78 544,75 547,76 550,73 553,70 555,66 557,62 558,57 560,55 561,52 564,56 565,62 564,68 562,73 561,79 559,84 556,87.6 552,88.4 547,90 542,91 540,94 538,96 536,93 533,91 530,92 527,94 523,96 520,97 M525,96 530,94 534,95 531,98 527,99.6 525,96 M561,52 559,51 556,50.4 559,48.4 561,45 563,41 564,38 M559,48.4 563,49 566,51 571,52 574,48.4 578,46.4 M497,97.2 500,96 500.4,97.2 497.6,98 497,97.2 M512,122.4 513,123.4 M504.4,134 506.4,131.6 M61.6,116 61.6,166.4 58,167.2 M61.6,156 88,156 98,157 105,151 112,156 M40,159 48,164 58,167.2 M58,167.2 57,176 57,184 52.4,189 50.4,196 48,204 51,211 52.4,214.4 M52.4,214.4 48,216 44,220 40,223 M52.4,214.4 56,220 61,228 M87.6,159 89.6,155 94,151.6 95.6,147.6 94.8,146 M94,116 95.6,120.4 98.4,126 101,132 103.6,138 106,143 106.4,147 109.6,152 112,156 113,163 115,170 118,176 121,182 123,187 126,191 130,196 135,201 139,204 M104,116 105.6,121 109,128 113,137 117,145 121,153 124,160 128,168 133,176 136,182 137,188 138,196 140,202.4 145,201 149,198 152.4,194.4 151,192.4 149,194.4 M133.6,182.4 137,185 139,180.4 142.4,179.6 145.6,180 M119,178 115,180.4 112.4,185 111.6,193 108.4,201 105,208 102,212 103,215 98,224 96,230 M119,178 123,186 126,191.6 131,197 136,202 139,204 M113.6,206.4 115.2,206 115.6,209 114,209.6 113.6,206.4 M139,204 136,207.6 137,210 140,211.6 146,212.4 152,214 156,213.6 M137,210 142,216 148,220 156,225 M210.4,154 208.4,157 206,161 203,165 201,170 198,173 193,177 189,181 181,184 177,188 171,191 164,195 156,199 M177,171.6 180,178 181,184 M239,138 242,142 246,146 250,147 252,151 256,151 255,154 252,154 256,159 260,162 264,159 265,155 267,158 267.6,166 269,176 271,186 274,196 276,202 M256,136 259,140 258,144 252,146 250,147 M183,205 186,204 188.4,205 185.6,206.4 183,205 M156,213 164,211 171,209 173.6,208.4 174,213 172,220 169,228 165,236 162,244 159,251 156,256 M156,229 160.4,228.4 157.6,232 156,234.4 M276,202 279,210 282,218 285,225 288,227.6 291,225 295,221 297,215 298,206 299.6,198 299,189 304,186 309,181 314,176 320,169 326,164 330,159 334,156 337,155 342,154 345,151 348,154 351,151 353,155 352,160 355,165 358,170 359,178 360,186 364,188 368,185 372,181 376,192 378.4,204 378,214 377.2,218.8 376.4,225.4 378,230.2 382.2,235.2 384.6,240 386.4,245 M359.6,186 364,188.4 364.4,187 360,185.2 M297.6,220.4 300,219 303,223 305.6,228 306.4,234 304,238.4 300,239.6 297.6,236 297,228 297.6,220.4 M354,200 353.6,206 353,210 M352,213 351.6,215 M356.4,227 356.8,228.4 M358,232 358.4,234 M363.4,241.8 367.4,242.6 372.4,242.6 375.6,245 379,249.2 383,253.2 387.2,258.2 390.4,262.2 396,267 M363.4,241.8 365.8,246.6 370,250.8 373.2,255.6 375.6,260.6 379,265.4 381.4,270.4 384.6,275.2 M367,255.6 369.6,257.6 368,258 367,255.6 M372.4,262 375,265 373,264.4 372.4,262 M336,146 337,155 M345,146 346,151 M355,146 353,155 M379,146 382,152 385,158 388,160 392,158 393,154 396,153 M385,158 382,164 377,168 374,174 373,177 376,182 379,189 380.6,202.4 379.8,210.6 380.6,218.8 383,225.2 385.4,231.8 386,233.2 M388,160 390,166 389,172 391,178 394,176 396,177 M380.6,202.4 384,199.6 386,200.4 M457,146 454,150 450,153 446,154 442,155 439,158 434,160 429,161 426,160 423,158 420,159 416,162 413,166 412,172 413,178 416,183 420,187 423,193 424,200 423,206 419,212 414,216 409,220 406,224 405,218 402,214 398,210 394,206 389,203 386,202 M445.2,153.6 446.4,153.6 446.4,154.8 445.2,154.8 445.2,153.6 M422,169 425,166 429,167 430,171 427,175 423,174 421.6,171 422,169 M386,160 390,157 393,154 400,153 406,150 412,152 416,157 419,159.6 M393,154 396,160 394,165 398,168 403,172 406,178 409,183 412,189 413,194 412,198 416,202 414,206 410,208 407,212 404.4,215 M386,166 389,170 388,175 392,178 396,176 401,178 405,183 406,189 405,195 398,195 392,197 388,201 386,202 M405,195 411,196 413,194 M401,202 403,205 402,203 M423,262 426,260 432,258 437,254 443,249 448,244 452,240 455,235.6 458,234.4 461,237 463,241 466,244 464,246 460,247 463,250 461,253 459,256 461,262 462,266 M434,261 442,259 448,255 452,250 456,249 460,247 M386,233.2 389.6,236.8 392.8,239.2 396.2,241.6 398.6,246.6 399.4,253.2 399.4,258 402,262.2 404.4,264 M386.4,245 388.8,250.8 391.2,256.4 393.6,260.6 397,263 404.4,264 M469,267 472,264 478,263.6 484,266 489,264 492,261 493,263 490,267 485,269 479,268 474,269 471,272 470,276 473,278 478,276 483,274 485,276 481,279 477,281 476,285 478,289 481,293 483,296 481,297 478,294 475,289 473,285 472,290 472,296 471,300 469,296 469,288 468.4,280 469,272 469,267 M503,260 506,258 507,262 505,266 508,268 506,270 504,268 502,273 503,266 503,260 M494,248 495,251 M499,246 500,249 M504,286 509,284.4 515,286 517,289 512,288.4 506,288.4 504,286 M497,286 500.4,286.4 501,289.6 498,289.6 497,286 M490,278.4 496,279.6 M502,277.6 505,278 M515,272 519,273 524,271 530,274 532,279 530,282 526,281 523,283 526,286 529,290 527,292 524,289 522,285 M532,279 535,284 540,283 543,279 546,277 552,280 560,284 568,287 577,290 M529,290 534,292 541,294 546,297 549,302 552,307 555,311 559,314 560,317 570,317 572,312 577,309 M561,284 561,317 M547,311 549,308 552.4,309 551.6,313 548,313.6 547,311 M531,299 533,298 534,302 532,305 531,299 M526,298 527,300 M519,307 520.4,309 518.4,313 M515,271 518.4,270 517,272.4 M536,273 539.6,274 M537,278 540.4,279 M466,313 472,314 478,313 483,314 478,315.2 472,315.6 466,315 M485,313 488,311.6 491,313 M496,310 499,309.6 M483,325 488,320 494,317 501,314 502,315.6 496,319 490,323 485,326 483,325 M467,318 471,319 473,322 469,321.6 467,318 M500,341 505,345 506,348 510,347 513,340 514,334 517,329 523,328 524,332 530,331 540,333 542,328 542.4,336 539.6,340 542,345.6 537,346 541,350 546,354 548,356 M561.6,356 564,342 567,326 570,332 573,342 577,345 M397,268 400.2,271.2 402.8,275.4 405.2,280.2 407.6,284.4 410,290 409.6,297 410,301 M384.8,275.4 387.2,280.2 389.6,284.4 393,288 398,292.6 403,297 406,300 410,301 M407,278 410,277 412,281 411,284 408.4,283 407,278 M417,284 419,283.6 419,287 417.4,287 417,284 M410,301 414,300.4 419,303.6 425,305 431,304 436,304 441,306 444,305 440,307 446,311 450,313 450,314.2 446,314 438,313 430,311 423,309.6 416,308.4 411,306 407.6,303 M452,313 455,312.4 455,315.6 452.4,315.6 452,313 M456.4,313 459,312 460,315 457,315.6 456.4,313 M461,313 465,312 467,314 463,315.6 461,313 M423,262 424,267 427,272 428,278 429,285 435,286 437,288 442,287 449,290 454,286 456,280 457,275 461,270 462,266 M426,260 432,261 438,263 446,261 449,256 M456,376.4 460,376.9 465.3,374 472,372.9 476,369.3 479.3,364 480,359.3 484,355.3 485.3,360 488.7,352.7 492,348 496,344 500,341.3 503.3,342.7 506,346 505.6,349.3 508.7,346.7 511.3,348 513.3,343.3 512.7,339.3 515.3,335.3 518,333.3 514.7,330 517.3,328.7 522.7,328.7 524.7,330.7 524,333.3 520,333.3 518.7,331.3 M58,226 62,231 66,236 71,242 76,247 82,248 86,251 M39,247 45,246 52,244 58,243 66,243 71,242 M96,226 98,230 102,235 105,241 107,246 111,249 116,250 124,252 130,250 136,248 144,243 148,240 153,235 156,233 M86,251 92,250 100,249.6 103,246 107,246 109,252 111,257 M124,252 129,258 129.6,266 132.4,275 134,277.6 M156,252 150,258 144,265 138,272 133,278 129,284 125,290 122,296 121,302 123,306 122,312 124,318 126,324 127,330 127,338 128,346 M124,295 125,299 M139,329 140.4,330 M144,332 145,334 M91,271 94,268.4 99,269 101,273 99.6,277.6 97,283 94,281 92,284 90.4,279 91,271 M100,249.6 103,258 101,265 100,271 M82,275 91,275 100,274 108,279 116,285 122,292 125,290 M92.6,261.6 95,260.4 97,262.4 94.4,263.2 92.6,261.6 M85,264 88.4,258 87.6,261 85,264 M86,251 85,258 85,264 82.4,269 81,275 79,282 80,288 79,294 81,300 83,306 86,312 90,316 95,319 99,320 M79.6,284 81.6,290 81,296 83,303 86,311 87.6,314 85,311 82.4,305 80,298 79,291 79.6,284 M81,275 86,276 87,281 84,283 79.6,284 M102,330 110,330 118,328 124,326 127,324 M99,320 101,326 100.4,332 102,338 104,343 103,338 102,332 102,326 100,320 M86,312 82,313 77,313 76,320 77,329 75,332 79,336 79.6,340 M96,320 97,326 95.6,334 96,342 97,346 M40,305.6 45.6,306.4 46.4,322 49,326 56,327.6 57,335.6 49.6,336.4 48.4,346 M56,327.6 62,329 69,330 76,331 M49,346 48.4,355 55,360.4 63,361 66,363 72,360 79,353.6 86,350 93,350 M40,363 48,362.4 56,361 63,361.6 M43.6,363.6 43.6,383 M66,363 69,370 73,376 76,381 82,384 88.4,385 M79,384.4 75,387 70,393 67,398.4 63,403 57,402.4 54,400 49,405 44,408.4 42,406 41,401 M93,350 96,356 96,364 94,372 93,378 88.4,385 90,392 91,399 92,404 M88.4,403.6 91,404.4 92,408 90,411 87,409.6 86.4,406 88.4,403.6 M102,346 103,352 105,357 107,352 107.6,346 M130,346 127,352 122,357 116,362 111,366 106,370 104,374 105,381 106.4,388 105,394 101,398.4 96,400 95,406 94.4,411 92,417 88.4,423 85,429 81,434 76,439 70,443 62,445.6 54,446 48,445.6 43,448 40,449 M70,423 76,418 80,422 74,428 70,423 M156,349 150,351 145,355 143.6,362 145,368 143,374 140.4,380 140,386 142,393 145,399 150,402 156,400 M165.6,331 168,335 169.6,342 171.6,349 169,353 168,358 166,365 164,373 161,382 159,391 156,399 149,402 144,398 141,391 140,384 143,377 145,371 143,364 144,357 148,353 153,351 157,348 160,343 163,338 165,333 165.6,331 M192,378 194,378 194.4,380 192.4,380 192,378 M200.4,374.4 202.4,374.4 202,375.6 200.4,374.4 M139,328.4 140.4,329.6 M144.4,332 145.6,334 M456,376.5 452.2,378 447.2,381 443.5,386 443,393.5 442.2,399.8 443.5,404.8 444.8,411 446.5,418.5 448.5,426 450.5,432.2 451.5,438.5 448.5,444.8 451,448.5 456,451 461,451 466,448.5 469.8,446 476,445.5 483.5,444.8 487.2,441 494.8,438 502.2,435.5 511,433.5 519.8,433.5 527.2,435.5 532.2,438.5 534.8,443.5 538,448.5 539.8,451 541,446 544.8,442.2 547.2,438.5 548,444.8 546,449.8 549.8,448.5 548.5,452.2 544,456 547.2,453.5 552.2,454 554.8,457.2 556,462.2 559.8,466 566,468.5 572.2,470.5 576,467.2 578,465.5 M441.5,404 443.5,403 444,406.5 442,407.2 441.5,404 M536,346 541,351 548.5,356 554.8,359.8 558.5,361.5 561,357.2 563.5,351 564,346 M573.5,475.5 575,476.5 573.5,477.5 M576,481 577.5,482.2 M109,86 108.5,90 107.5,94 105.5,97 104,101 103.5,104.5 102.5,106.5 101,107.5 97,109 93,108.5 90,107.5 87,106 86,106.5 M109,90 111.5,91 111,94.5 108.5,95.5 107.5,94 M107.5,95.5 106.5,98.5 105.5,102 106,106 105.5,110 104.5,115 103.5,120 102,124.5 M101,107.5 101.5,112 102,118 102,124.5 M90,107.5 92,112 94,116 M91.5,108.5 93,113 94.5,118 96.5,123 98.5,125.5 100,126 102,124.5 104,123.2 106,116 M103.5,120 109.5,118 112.5,115.5 117,112.5 116,110 113.5,107.5 115,106.5 119,105 122.5,103 M106,101 110,102 113,101.5 117,99 120.5,97 122.5,103 M473,174.5 475.7,173.2 478.3,175.2 480.2,174.5 479.6,177.8 481.6,181.7 479.6,185.7 477,188.9 477.6,192.2 479.6,194.2 481.6,196.8 484.8,198.1 488.1,198.8 487.5,200.7 489.4,203.4 492,204.7 M473,174.5 472.4,179.1 471.7,184.3 469.8,187 471.1,190.2 471.7,194.2 474.3,195.5 475.7,198.8 478.3,198.1 479.6,194.2 M473,200.1 475.7,199.4 477,202.7 475.7,206 473.7,204 473,200.1 M490.7,204.7 493.4,205.3 494.7,208.6 495.3,211.9 493.4,211.2 491.4,207.9 490.7,204.7 M490.7,211.2 492.7,213.2 492,216.5 490.7,215.1 490.1,211.9 490.7,211.2 M479.6,209.3 482.2,208.6 484.2,211.2 482.2,213.2 479.6,212.5 478.9,210.6 479.6,209.3 M481.6,216.5 484.2,214.5 485.5,217.1 484.2,221 482.2,222.4 481.6,219.1 481.6,216.5 M486.1,211.9 488.1,214.5 487.5,218.4 486.1,216.5 486.1,211.9 M488.1,217.8 490.7,217.8 490.3,219.7 488.1,219.7 488.1,217.8 M484.2,205.3 487.5,206 486.1,207.3 484.2,205.3 M479.6,230.2 482.2,227.6 484.8,225.6 487.5,226.9 490.1,224.3 493.4,222.4 495.3,220.4 496.6,223 498.6,227.6 498.6,232.8 497.3,237.4 494.7,240.7 491.4,239.4 488.8,236.1 488.1,232.8 490.1,230.2 487.5,229.6 484.8,230.2 482.2,231.5 480.2,234.2 478.9,232.8 479.6,230.2 M494,234.2 495.3,232.2 496.6,234.2 495.3,236.8 M458,228.3 459.9,225.6 462.6,221.7 465.2,218.4 467.8,214.5 469.1,211.9 468.5,215.1 465.8,219.1 463.2,223 460.6,226.3 458,228.3 M475,238.1 476.3,239.1 M469.8,242 471.1,242.7 M477.6,201.4 480.2,200.3 482.2,202 480.9,204 M482.9,199.4 485.5,200.3 486.8,202.7" fill="none" stroke="#000" stroke-width="1" stroke-linejoin="round" stroke-linecap="round" shape-rendering="crispEdges"/>
<rect x="39" y="37" width="539" height="465" fill="none" stroke="#000" stroke-width="2" shape-rendering="crispEdges"/>
<path d="M39.5,503 v4 M82.5,503 v4 M125.5,503 v4 M168.5,503 v4 M212.5,503 v4 M255.5,503 v4 M298.5,503 v4 M341.5,503 v4 M384.5,503 v4 M427.5,503 v4 M470.5,503 v4 M513.5,503 v4 M556.5,503 v4 M38,476.5 h-3 M38,425.5 h-3 M38,373.5 h-3 M38,322.5 h-3 M38,270.5 h-3 M38,218.5 h-3 M38,167.5 h-3 M38,115.5 h-3 M38,63.5 h-3" stroke="#000" stroke-width="1" fill="none" shape-rendering="crispEdges"/>
<g class="t"><text x="30.9" y="517.3" font-size="12.2" text-anchor="start" textLength="18.2" lengthAdjust="spacingAndGlyphs">20E</text>
<text x="73.9" y="517.3" font-size="12.2" text-anchor="start" textLength="18.2" lengthAdjust="spacingAndGlyphs">30E</text>
<text x="116.9" y="517.3" font-size="12.2" text-anchor="start" textLength="18.2" lengthAdjust="spacingAndGlyphs">40E</text>
<text x="159.9" y="517.3" font-size="12.2" text-anchor="start" textLength="18.2" lengthAdjust="spacingAndGlyphs">50E</text>
<text x="203.9" y="517.3" font-size="12.2" text-anchor="start" textLength="18.2" lengthAdjust="spacingAndGlyphs">60E</text>
<text x="246.9" y="517.3" font-size="12.2" text-anchor="start" textLength="18.2" lengthAdjust="spacingAndGlyphs">70E</text>
<text x="289.9" y="517.3" font-size="12.2" text-anchor="start" textLength="18.2" lengthAdjust="spacingAndGlyphs">80E</text>
<text x="332.9" y="517.3" font-size="12.2" text-anchor="start" textLength="18.2" lengthAdjust="spacingAndGlyphs">90E</text>
<text x="372.8" y="517.3" font-size="12.2" text-anchor="start" textLength="24.5" lengthAdjust="spacingAndGlyphs">100E</text>
<text x="415.8" y="517.3" font-size="12.2" text-anchor="start" textLength="24.5" lengthAdjust="spacingAndGlyphs">110E</text>
<text x="458.8" y="517.3" font-size="12.2" text-anchor="start" textLength="24.5" lengthAdjust="spacingAndGlyphs">120E</text>
<text x="501.8" y="517.3" font-size="12.2" text-anchor="start" textLength="24.5" lengthAdjust="spacingAndGlyphs">130E</text>
<text x="544.8" y="517.3" font-size="12.2" text-anchor="start" textLength="24.5" lengthAdjust="spacingAndGlyphs">140E</text>
<text x="14.8" y="481.0" font-size="12.2" text-anchor="start" textLength="18.4" lengthAdjust="spacingAndGlyphs">40S</text>
<text x="14.8" y="430.0" font-size="12.2" text-anchor="start" textLength="18.4" lengthAdjust="spacingAndGlyphs">30S</text>
<text x="14.8" y="378.0" font-size="12.2" text-anchor="start" textLength="18.4" lengthAdjust="spacingAndGlyphs">20S</text>
<text x="14.8" y="327.0" font-size="12.2" text-anchor="start" textLength="18.4" lengthAdjust="spacingAndGlyphs">10S</text>
<text x="20.4" y="275.0" font-size="12.2" text-anchor="start" textLength="12.8" lengthAdjust="spacingAndGlyphs">EQ</text>
<text x="14.8" y="223.0" font-size="12.2" text-anchor="start" textLength="18.4" lengthAdjust="spacingAndGlyphs">10N</text>
<text x="14.8" y="172.0" font-size="12.2" text-anchor="start" textLength="18.4" lengthAdjust="spacingAndGlyphs">20N</text>
<text x="14.8" y="120.0" font-size="12.2" text-anchor="start" textLength="18.4" lengthAdjust="spacingAndGlyphs">30N</text>
<text x="14.8" y="68.0" font-size="12.2" text-anchor="start" textLength="18.4" lengthAdjust="spacingAndGlyphs">40N</text>
<text x="34.0" y="24.7" font-size="25.5" text-anchor="start" textLength="28.7" lengthAdjust="spacingAndGlyphs">20</text>
<text x="75.7" y="24.7" font-size="25.5" text-anchor="start" textLength="42.0" lengthAdjust="spacingAndGlyphs">FEB</text>
<text x="131.5" y="24.7" font-size="25.5" text-anchor="start" textLength="57.0" lengthAdjust="spacingAndGlyphs">2025</text>
<text x="203.5" y="24.7" font-size="25.5" text-anchor="start" textLength="48.5" lengthAdjust="spacingAndGlyphs">06Z,</text>
<text x="306.0" y="24.7" font-size="25.5" text-anchor="start" textLength="14.5" lengthAdjust="spacingAndGlyphs">0</text>
<text x="334.5" y="24.7" font-size="25.5" text-anchor="start" textLength="22.0" lengthAdjust="spacingAndGlyphs">to</text>
<text x="382.0" y="24.7" font-size="25.5" text-anchor="start" textLength="29.5" lengthAdjust="spacingAndGlyphs">24</text>
<text x="425.6" y="24.7" font-size="25.5" text-anchor="start" textLength="23.0" lengthAdjust="spacingAndGlyphs">hr</text>
<text x="461.0" y="24.7" font-size="25.5" text-anchor="start" textLength="53.6" lengthAdjust="spacingAndGlyphs">CLIM</text>
<text x="524.0" y="24.7" font-size="25.5" text-anchor="start" textLength="65.0" lengthAdjust="spacingAndGlyphs">VSHD</text>
<rect x="85.0" y="538" width="35.5" height="15" fill="#a000c8"/>
<rect x="120.3" y="538" width="35.5" height="15" fill="#8200dc"/>
<rect x="155.6" y="538" width="35.5" height="15" fill="#1e3cff"/>
<rect x="190.9" y="538" width="35.5" height="15" fill="#00a0ff"/>
<rect x="226.2" y="538" width="35.5" height="15" fill="#00c8c8"/>
<rect x="261.5" y="538" width="35.5" height="15" fill="#00d28c"/>
<rect x="296.8" y="538" width="35.5" height="15" fill="#00dc00"/>
<rect x="332.1" y="538" width="35.5" height="15" fill="#a0e632"/>
<rect x="367.4" y="538" width="35.5" height="15" fill="#e6dc32"/>
<rect x="402.7" y="538" width="35.5" height="15" fill="#e6af2d"/>
<rect x="438.0" y="538" width="35.5" height="15" fill="#f08228"/>
<rect x="473.3" y="538" width="35.5" height="15" fill="#fa3c3c"/>
<path d="M85.0,538 L50,545.8 L85.0,553 Z" fill="#aaaaaa"/>
<path d="M508.6,538 L546,545.6 L508.6,553 Z" fill="#f00082"/>
<path d="M85.0,538 L50,545.8 L85.0,553 M508.6,538 L546,545.6 L508.6,553" fill="none" stroke="#000" stroke-width="1" stroke-dasharray="3 3"/>
<path d="M85.5,538 V554 M120.5,538 V554 M156.5,538 V554 M191.5,538 V554 M226.5,538 V554 M262.5,538 V554 M297.5,538 V554 M332.5,538 V554 M367.5,538 V554 M403.5,538 V554 M438.5,538 V554 M473.5,538 V554 M509.5,538 V554 M85.0,553.5 H509.6" fill="none" stroke="#000" stroke-width="1" shape-rendering="crispEdges"/>
<text x="81.8" y="566.8" font-size="12.3" text-anchor="start" textLength="8.5" lengthAdjust="spacingAndGlyphs">0</text>
<text x="117.0" y="566.8" font-size="12.3" text-anchor="start" textLength="8.5" lengthAdjust="spacingAndGlyphs">5</text>
<text x="148.3" y="566.8" font-size="12.3" text-anchor="start" textLength="16.5" lengthAdjust="spacingAndGlyphs">10</text>
<text x="183.6" y="566.8" font-size="12.3" text-anchor="start" textLength="16.5" lengthAdjust="spacingAndGlyphs">15</text>
<text x="218.9" y="566.8" font-size="12.3" text-anchor="start" textLength="16.5" lengthAdjust="spacingAndGlyphs">20</text>
<text x="254.2" y="566.8" font-size="12.3" text-anchor="start" textLength="16.5" lengthAdjust="spacingAndGlyphs">25</text>
<text x="289.5" y="566.8" font-size="12.3" text-anchor="start" textLength="16.5" lengthAdjust="spacingAndGlyphs">30</text>
<text x="324.8" y="566.8" font-size="12.3" text-anchor="start" textLength="16.5" lengthAdjust="spacingAndGlyphs">35</text>
<text x="360.1" y="566.8" font-size="12.3" text-anchor="start" textLength="16.5" lengthAdjust="spacingAndGlyphs">40</text>
<text x="395.4" y="566.8" font-size="12.3" text-anchor="start" textLength="16.5" lengthAdjust="spacingAndGlyphs">45</text>
<text x="430.8" y="566.8" font-size="12.3" text-anchor="start" textLength="16.5" lengthAdjust="spacingAndGlyphs">50</text>
<text x="466.0" y="566.8" font-size="12.3" text-anchor="start" textLength="16.5" lengthAdjust="spacingAndGlyphs">55</text>
<text x="501.3" y="566.8" font-size="12.3" text-anchor="start" textLength="16.5" lengthAdjust="spacingAndGlyphs">60</text>
<text x="298.0" y="597.0" font-size="21.0" text-anchor="start" textLength="7.0" lengthAdjust="spacingAndGlyphs">(</text>
<text x="314.0" y="597.0" font-size="17.0" text-anchor="start" textLength="46.5" lengthAdjust="spacingAndGlyphs">ms-1</text>
<text x="380.0" y="597.0" font-size="21.0" text-anchor="start" textLength="7.0" lengthAdjust="spacingAndGlyphs">)</text></g>
</svg>
</body></html>
